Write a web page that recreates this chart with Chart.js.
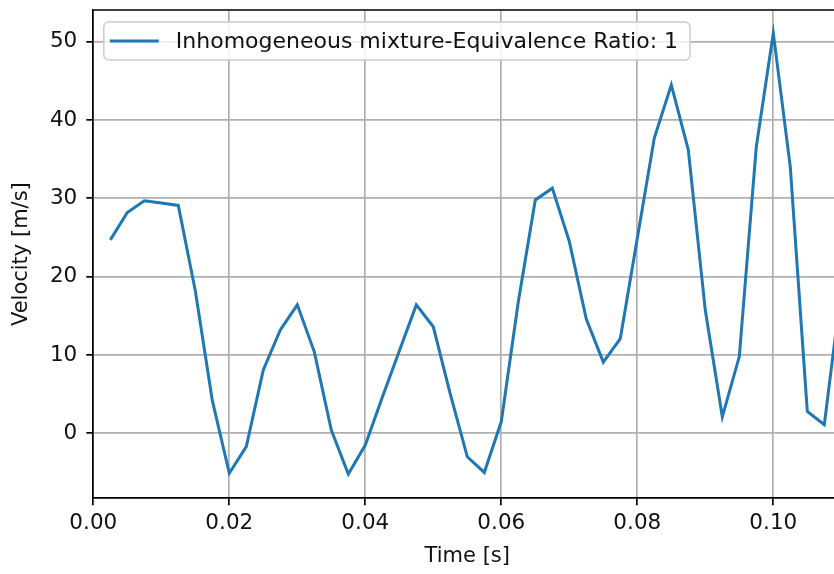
<!DOCTYPE html>
<html>
<head>
<meta charset="utf-8">
<script src="https://cdn.jsdelivr.net/npm/chart.js@4/dist/chart.umd.min.js"></script>
<style>
  html, body { margin: 0; padding: 0; background: #fff; overflow: hidden; }
  #wrap { width: 845px; height: 574px; }
</style>
</head>
<body>
<div id="wrap"><canvas id="graficoVelocidade" width="845" height="574"></canvas></div>
<script>
// dados
var tempo = [
    0.0025, 0.005, 0.0075, 0.01, 0.0125, 0.015, 0.0175, 0.02, 0.0225, 0.025,
    0.0275, 0.03, 0.0325, 0.035, 0.0375, 0.04, 0.0425, 0.045, 0.0475, 0.05,
    0.0525, 0.055, 0.0575, 0.06, 0.0625, 0.065, 0.0675, 0.07, 0.0725, 0.075,
    0.0775, 0.08, 0.0825, 0.085, 0.0875, 0.09, 0.0925, 0.095, 0.0975, 0.1,
    0.1025, 0.105, 0.1075, 0.11
]
var velocidade = [
    24.7, 28.2, 29.7, 29.4, 29.1, 18.2, 4.2, -5.1, -1.7, 8.1,
    13.2, 16.4, 10.4, 0.4, -5.2, -1.5, 4.6, 10.5, 16.4, 13.6,
    5.0, -3.0, -5.0, 1.5, 16.8, 29.8, 31.3, 24.5, 14.6, 9.1,
    12.1, 24.9, 37.7, 44.5, 36.2, 15.7, 2.1, 9.8, 36.6, 51.1,
    34.0, 2.8, 1.1, 18.5
]
var ticksX = [0, 0.02, 0.04, 0.06, 0.08, 0.10]
var ticksY = [0, 10, 20, 30, 40, 50]
var legenda = 'Inhomogeneous mixture-Equivalence Ratio: 1'

var fonte = 21
Chart.defaults.font.family = '"DejaVu Sans", sans-serif'
Chart.defaults.font.size = fonte
Chart.defaults.color = '#111'

// moldura de cima e legenda dentro do grafico
const molduraELegenda = {
    id: 'molduraELegenda',
    afterDraw(chart) {
        let c = chart.ctx
        let a = chart.chartArea
        c.save()
        c.strokeStyle = '#000'
        c.lineWidth = 1.7
        c.beginPath()
        c.moveTo(a.left, a.top)
        c.lineTo(a.right, a.top)
        c.lineTo(a.right, a.bottom)
        c.stroke()

        c.font = '22px "DejaVu Sans"'
        let largura = c.measureText(chart.data.datasets[0].label).width
        let x = a.left + 10.5
        let y = a.top + 12
        let w = 72 + largura + 12
        let h = 38
        c.fillStyle = 'rgba(255,255,255,0.8)'
        c.strokeStyle = '#cccccc'
        c.lineWidth = 1.5
        c.beginPath()
        c.roundRect(x, y, w, h, 5)
        c.fill()
        c.stroke()

        c.strokeStyle = chart.data.datasets[0].borderColor
        c.lineWidth = 3
        c.beginPath()
        c.moveTo(x + 6, y + h / 2)
        c.lineTo(x + 55, y + h / 2)
        c.stroke()

        c.fillStyle = '#111'
        c.textBaseline = 'middle'
        c.textAlign = 'left'
        c.fillText(chart.data.datasets[0].label, x + 72, y + h / 2 + 1)
        c.restore()
    }
}

function semFolga(eixo) {
    eixo.paddingTop = 0
    eixo.paddingBottom = 0
    eixo.paddingLeft = 0
    eixo.paddingRight = 0
}

var ctx = document.getElementById('graficoVelocidade')

myChart = new Chart(ctx, {
    type: 'line',
    data: {
        datasets: [{
            label: legenda,
            data: tempo.map((t, i) => ({ x: t, y: velocidade[i] })),
            borderColor: '#1f77b4',
            backgroundColor: '#1f77b4',
            borderWidth: 3,
            pointRadius: 0,
            tension: 0,
            fill: false
        }]
    },
    options: {
        responsive: false,
        animation: false,
        devicePixelRatio: 1,
        layout: {
            padding: { top: 10, right: 3.7, left: 0, bottom: 0 }
        },
        plugins: {
            legend: { display: false },
            tooltip: { enabled: false }
        },
        scales: {
            x: {
                type: 'linear',
                min: 0,
                max: 0.11,
                afterBuildTicks: (eixo) => { eixo.ticks = ticksX.map(v => ({ value: v })) },
                afterFit: (eixo) => { eixo.height = 75.7; semFolga(eixo) },
                ticks: {
                    padding: 5,
                    maxRotation: 0,
                    font: { size: 21.5 },
                    callback: (v) => v.toFixed(2)
                },
                grid: {
                    color: '#b0b0b0',
                    lineWidth: 1.7,
                    tickLength: 7,
                    tickColor: '#000',
                    tickWidth: 1.7
                },
                border: { display: true, color: '#000', width: 1.7 },
                title: {
                    display: true,
                    text: 'Time [s]',
                    padding: { top: 0, bottom: 4.4 }
                }
            },
            y: {
                min: -8.3,
                max: 54.05,
                afterBuildTicks: (eixo) => { eixo.ticks = ticksY.map(v => ({ value: v })) },
                afterFit: (eixo) => { eixo.width = 93.3; semFolga(eixo) },
                ticks: {
                    padding: 9,
                    font: { size: 21.5 },
                    callback: (v) => String(v)
                },
                grid: {
                    color: '#b0b0b0',
                    lineWidth: 1.7,
                    tickLength: 7,
                    tickColor: '#000',
                    tickWidth: 1.7
                },
                border: { display: true, color: '#000', width: 1.7 },
                title: {
                    display: true,
                    text: 'Velocity [m/s]',
                    padding: { top: 9.4, bottom: 0 }
                }
            }
        }
    },
    plugins: [molduraELegenda]
})
</script>
</body>
</html>
